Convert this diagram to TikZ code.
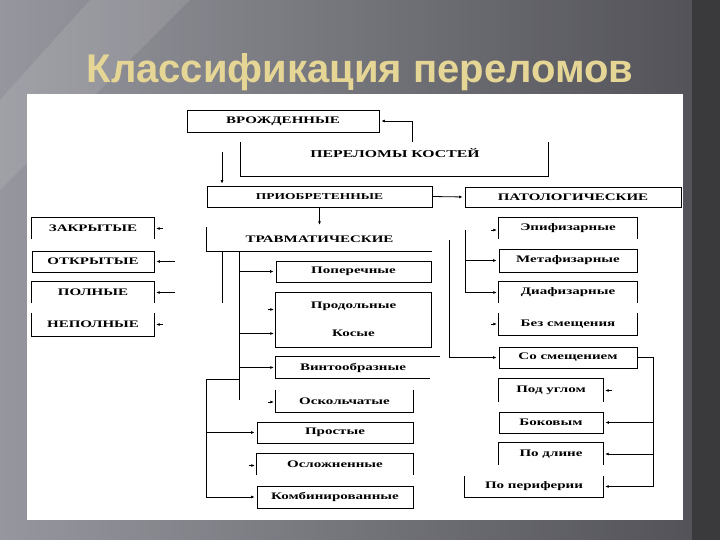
\documentclass[tikz,border=0pt]{standalone}
\usepackage{fontspec}
\setmainfont{Liberation Serif}
\newfontfamily\lbl{Liberation Serif Bold}[FakeStretch=1.5]
\newfontfamily\ttl{Liberation Sans Bold}
\usetikzlibrary{arrows.meta,calc}
\definecolor{titlecol}{RGB}{230,214,150}
\definecolor{bgl}{RGB}{150,150,158}
\definecolor{bgr}{RGB}{80,80,86}
\definecolor{strip}{RGB}{58,58,60}
\begin{document}
\begin{tikzpicture}[x=1pt,y=-1pt,
  box/.style={rectangle, inner sep=0pt, font=\lbl\fontsize{10}{12}\selectfont},
  full/.style={box, draw, line width=0.8pt},
  ln/.style={line width=0.8pt},
  arr/.style={line width=0.8pt, -{Latex[length=3.5pt,width=3pt]}, shorten >=2pt},
]
% background
\useasboundingbox (0,0) rectangle (720,540);
\shade[left color=bgl, right color=bgr] (0,0) rectangle (720,540);
\fill[white, opacity=0.10] (90,0) -- (190,0) -- (0,190) -- (0,100) -- cycle;
\fill[strip] (692,0) rectangle (720,540);
\fill[white] (27,94) rectangle (683,520);
% title
\node[font=\ttl\fontsize{40}{44}\selectfont, text=titlecol] (title) at (360,72) {Классификация переломов};

% top
\node[full, minimum width=192pt, minimum height=22pt] (vrozh) at (283,121) {ВРОЖДЕННЫЕ};
\node[box, minimum width=307pt, minimum height=34pt] (perelom) at (394.5,159) {};
\draw[ln] (perelom.north west) -- (perelom.south west) -- (perelom.south east) -- (perelom.north east);
\node[box, font=\lbl\fontsize{10.5}{12}\selectfont] (pereltxt) at (395,153) {ПЕРЕЛОМЫ КОСТЕЙ};
\node[full, minimum width=225pt, minimum height=21pt, font=\lbl\fontsize{9}{11}\selectfont] (priob) at (319.5,196.5) {ПРИОБРЕТЕННЫЕ};
\node[full, minimum width=216pt, minimum height=20pt] (patol) at (573,197) {ПАТОЛОГИЧЕСКИЕ};
\node[box, minimum width=225pt, minimum height=24pt] (travm) at (319.5,239) {ТРАВМАТИЧЕСКИЕ};
\draw[ln] (travm.north west) -- (travm.south west) -- (travm.south east);

\coordinate (pa) at (222,152);
\draw[arr] (pa) -- (pa |- priob.north);
\draw[arr] ($(perelom.north)+(18,0)$) |- (vrozh.east);
\draw[arr] (priob.east) -- (patol.west);
\draw[arr] (priob.south) -- (travm.north);

% left column
\node[box, minimum width=122pt, minimum height=21pt] (zak) at (93,228.5) {ЗАКРЫТЫЕ};
\draw[ln] (zak.south west) -- (zak.north west) -- (zak.north east) -- (zak.south east);
\node[full, minimum width=122pt, minimum height=21pt] (otkr) at (93,261.5) {ОТКРЫТЫЕ};
\node[box, minimum width=122pt, minimum height=21pt] (poln) at (93,292.5) {ПОЛНЫЕ};
\draw[ln] (poln.south west) -- (poln.north west) -- (poln.north east) -- (poln.south east);
\node[box, minimum width=122pt, minimum height=23pt] (nepoln) at (93,324.5) {НЕПОЛНЫЕ};
\draw[ln] (nepoln.north west) -- (nepoln.south west) -- (nepoln.south east) -- (nepoln.north east);
\coordinate (lc) at (175,261.5);
\draw[arr] ($(zak.east)+(9,0)$) -- (zak.east);
\draw[arr] (lc) -- (otkr.east);
\draw[arr] (lc |- poln.east) -- (poln.east);
\draw[arr] ($(nepoln.east)+(9,0)$) -- (nepoln.east);

% middle column
\node[full, minimum width=155pt, minimum height=21pt] (pop) at (353.5,271.5) {Поперечные};
\node[box, minimum width=155pt, minimum height=27pt] (prod) at (353.5,306.5) {Продольные};
\draw[ln] (prod.south west) -- (prod.north west) -- (prod.north east) -- (prod.south east);
\node[box, minimum width=155pt, minimum height=27pt] (kos) at (353.5,333.5) {Косые};
\draw[ln] (kos.north west) -- (kos.south west) -- (kos.south east) -- (kos.north east);
\node[box, minimum width=154pt, minimum height=21pt] (vint) at (353,367.5) {Винтообразные};
\draw[ln] ($(vint.north west)+(164,0)$) -- (vint.north west) -- (vint.south west) -- (vint.south east);
\node[box, minimum width=137pt, minimum height=22pt] (oskol) at (344.5,401) {Оскольчатые};
\draw[ln] (oskol.north west) -- (oskol.south west) -- (oskol.south east) -- (oskol.north east);
\node[full, minimum width=156pt, minimum height=21pt] (prost) at (335,432.5) {Простые};
\node[box, minimum width=156pt, minimum height=21pt] (oslozh) at (335,464.5) {Осложненные};
\draw[ln] (oslozh.south west) -- (oslozh.north west) -- (oslozh.north east) -- (oslozh.south east);
\node[full, minimum width=156pt, minimum height=22pt] (komb) at (335,497) {Комбинированные};

\draw[ln] ($(travm.south west)+(16,0)$) -- ++(0,52);
\coordinate (trunk) at ($(travm.south west)+(33,0)$);
\draw[ln] (trunk) -- ++(0,149);
\draw[arr] (trunk |- pop.west) -- (pop.west);
\draw[arr] ($(prod.west)+(-8,3)$) -- ($(prod.west)+(0,3)$);
\draw[arr] (trunk |- kos.west) -- (kos.west);
\draw[arr] (trunk |- vint.west) -- (vint.west);
\draw[arr] ($(oskol.west)+(-8,1)$) -- ($(oskol.west)+(0,1)$);
\coordinate (lt) at (206,379);
\draw[ln] (trunk |- lt) -- (lt) -- (lt |- komb.west);
\draw[arr] (lt |- prost.west) -- (prost.west);
\draw[arr] ($(oslozh.west)+(-8,1)$) -- ($(oslozh.west)+(0,1)$);
\draw[arr] (lt |- komb.west) -- (komb.west);

% right column
\node[box, minimum width=138pt, minimum height=21pt] (epif) at (568,228.5) {Эпифизарные};
\draw[ln] (epif.south west) -- (epif.north west) -- (epif.north east) -- (epif.south east);
\node[full, minimum width=138pt, minimum height=23pt] (meta) at (568,260.5) {Метафизарные};
\node[box, minimum width=138pt, minimum height=21pt] (diaf) at (568,292.5) {Диафизарные};
\draw[ln] (diaf.south west) -- (diaf.north west) -- (diaf.north east) -- (diaf.south east);
\node[box, minimum width=138pt, minimum height=22pt] (bez) at (568,324) {Без смещения};
\draw[ln] (bez.north west) -- (bez.south west) -- (bez.south east) -- (bez.north east);
\node[full, minimum width=138pt, minimum height=21pt] (sosm) at (568,357.5) {Со смещением};
\node[box, minimum width=104pt, minimum height=23pt] (podugl) at (551,390.5) {Под углом};
\draw[ln] (podugl.south west) -- (podugl.north west) -- (podugl.north east) -- (podugl.south east);
\node[full, minimum width=104pt, minimum height=21pt] (bok) at (551,422.5) {Боковым};
\node[box, minimum width=104pt, minimum height=22pt] (podl) at (551,454) {По длине};
\draw[ln] (podl.south west) -- (podl.north west) -- (podl.north east) -- (podl.south east);
\node[box, minimum width=138pt, minimum height=21pt] (perif) at (534,486.5) {По периферии};
\draw[ln] (perif.north west) -- (perif.south west) -- (perif.south east) -- (perif.north east);

\coordinate (rt1) at (465,230);
\draw[ln] (rt1) -- (rt1 |- diaf.west);
\draw[arr] ($(epif.west)+(-8,1.5)$) -- ($(epif.west)+(0,1.5)$);
\draw[arr] (rt1 |- meta.west) -- (meta.west);
\draw[arr] (rt1 |- diaf.west) -- (diaf.west);
\draw[arr] ($(bez.west)+(-8,0)$) -- (bez.west);
\coordinate (rt2) at (449,240);
\draw[arr] (rt2) |- (sosm.west);
\coordinate (rt3) at (653,357.5);
\draw[ln] (sosm.east) -- (rt3) -- (rt3 |- perif.east);
\draw[arr] ($(podugl.east)+(9,0)$) -- (podugl.east);
\draw[arr] (rt3 |- bok.east) -- (bok.east);
\draw[arr] (rt3 |- podl.east) -- (podl.east);
\draw[arr] (rt3 |- perif.east) -- (perif.east);
\end{tikzpicture}
\end{document}
